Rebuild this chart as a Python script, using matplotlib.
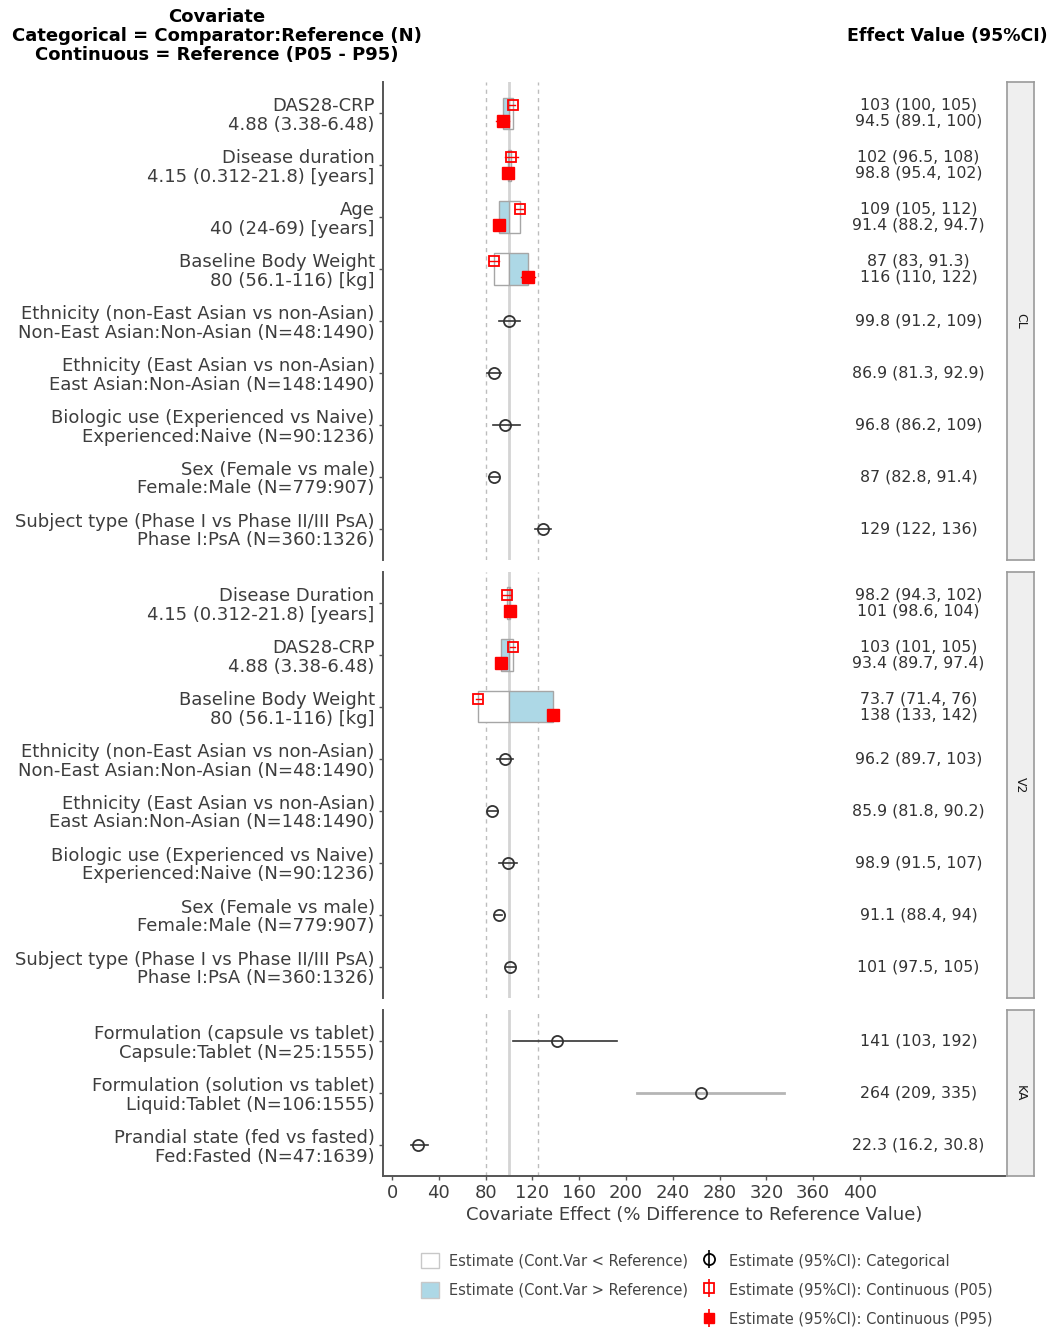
import matplotlib
matplotlib.use("Agg")
import matplotlib.pyplot as plt
from matplotlib.patches import Rectangle, Patch
from matplotlib.lines import Line2D
from matplotlib.legend_handler import HandlerTuple

# ---------------- data ----------------
# CL panel: continuous covariates (P05 / P95 of covariate distribution)
cl_cont_labels = [
    "DAS28-CRP\n4.88 (3.38-6.48)",
    "Disease duration\n4.15 (0.312-21.8) [years]",
    "Age\n40 (24-69) [years]",
    "Baseline Body Weight\n80 (56.1-116) [kg]",
]
cl_p05 = [103, 102, 109, 87]
cl_p05_lo = [100, 96.5, 105, 83]
cl_p05_hi = [105, 108, 112, 91.3]
cl_p95 = [94.5, 98.8, 91.4, 116]
cl_p95_lo = [89.1, 95.4, 88.2, 110]
cl_p95_hi = [100, 102, 94.7, 122]
# CL panel: categorical covariates
cl_cat_labels = [
    "Ethnicity (non-East Asian vs non-Asian)\nNon-East Asian:Non-Asian (N=48:1490)",
    "Ethnicity (East Asian vs non-Asian)\nEast Asian:Non-Asian (N=148:1490)",
    "Biologic use (Experienced vs Naive)\nExperienced:Naive (N=90:1236)",
    "Sex (Female vs male)\nFemale:Male (N=779:907)",
    "Subject type (Phase I vs Phase II/III PsA)\nPhase I:PsA (N=360:1326)",
]
cl_cat = [99.8, 86.9, 96.8, 87, 129]
cl_cat_lo = [91.2, 81.3, 86.2, 82.8, 122]
cl_cat_hi = [109, 92.9, 109, 91.4, 136]

# V2 panel
v2_cont_labels = [
    "Disease Duration\n4.15 (0.312-21.8) [years]",
    "DAS28-CRP\n4.88 (3.38-6.48)",
    "Baseline Body Weight\n80 (56.1-116) [kg]",
]
v2_p05 = [98.2, 103, 73.7]
v2_p05_lo = [94.3, 101, 71.4]
v2_p05_hi = [102, 105, 76]
v2_p95 = [101, 93.4, 138]
v2_p95_lo = [98.6, 89.7, 133]
v2_p95_hi = [104, 97.4, 142]
v2_cat_labels = [
    "Ethnicity (non-East Asian vs non-Asian)\nNon-East Asian:Non-Asian (N=48:1490)",
    "Ethnicity (East Asian vs non-Asian)\nEast Asian:Non-Asian (N=148:1490)",
    "Biologic use (Experienced vs Naive)\nExperienced:Naive (N=90:1236)",
    "Sex (Female vs male)\nFemale:Male (N=779:907)",
    "Subject type (Phase I vs Phase II/III PsA)\nPhase I:PsA (N=360:1326)",
]
v2_cat = [96.2, 85.9, 98.9, 91.1, 101]
v2_cat_lo = [89.7, 81.8, 91.5, 88.4, 97.5]
v2_cat_hi = [103, 90.2, 107, 94, 105]

# KA panel (categorical only)
ka_cat_labels = [
    "Formulation (capsule vs tablet)\nCapsule:Tablet (N=25:1555)",
    "Formulation (solution vs tablet)\nLiquid:Tablet (N=106:1555)",
    "Prandial state (fed vs fasted)\nFed:Fasted (N=47:1639)",
]
ka_cat = [141, 264, 22.3]
ka_cat_lo = [103, 209, 16.2]
ka_cat_hi = [192, 335, 30.8]

x_ticks = [0, 40, 80, 120, 160, 200, 240, 280, 320, 360, 400]
panel_names = ["CL", "V2", "KA"]

# ---------------- styling ----------------
W, H = 1054, 1327
DARK = "#333333"
TXT = "#3d3d3d"
RED = "#ff0000"
BLUE = "#add8e6"
BOX_EDGE = "#a6a6a6"
TEXT_X = 450
XLIM = (-7.7, 524)
AX_FS = 13
VAL_FS = 11.3

plt.rcParams["font.family"] = ["DejaVu Sans"]

fig = plt.figure(figsize=(W / 100, H / 100), dpi=100)


def fmt(v):
    return f"{v:.3g}"


def fx(px):
    return px / W


def fy(px):
    return 1 - px / H


def draw_panel(ax, cont_labels, p05, p05_lo, p05_hi, p95, p95_lo, p95_hi,
               cat_labels, cat, cat_lo, cat_hi, ci_colors=None, bottom=False):
    n_cont = len(cont_labels)
    n = n_cont + len(cat_labels)
    ax.set_xlim(*XLIM)
    ax.set_ylim(n - 1 + 0.6, -0.6)

    # reference lines
    ax.axvline(100, color="#d4d4d4", lw=2.0, zorder=1)
    for v in (80, 125):
        ax.axvline(v, color="#bdbdbd", lw=1.0, ls=(0, (3, 3)), zorder=1)

    # continuous covariates: shaded boxes + P05 / P95 estimates
    for i in range(n_cont):
        ax.add_patch(Rectangle((100, i - 0.3), p05[i] - 100, 0.6,
                               facecolor="white", edgecolor=BOX_EDGE,
                               lw=1.0, zorder=2))
        ax.add_patch(Rectangle((100, i - 0.3), p95[i] - 100, 0.6,
                               facecolor=BLUE, edgecolor=BOX_EDGE,
                               lw=1.0, zorder=2))
        y5, y95 = i - 0.15, i + 0.15
        ax.plot([p05_lo[i], p05_hi[i]], [y5, y5], color=RED, lw=1.0, zorder=3)
        ax.plot([p05[i]], [y5], marker="s", ms=7.5, mfc="none", mec=RED,
                mew=1.3, zorder=4)
        ax.plot([p95_lo[i], p95_hi[i]], [y95, y95], color=RED, lw=1.0, zorder=3)
        ax.plot([p95[i]], [y95], marker="s", ms=8, mfc=RED, mec=RED,
                mew=1.0, zorder=4)
        ax.text(TEXT_X, i - 0.16,
                f"{fmt(p05[i])} ({fmt(p05_lo[i])}, {fmt(p05_hi[i])})",
                ha="center", va="center", fontsize=VAL_FS, color=DARK)
        ax.text(TEXT_X, i + 0.16,
                f"{fmt(p95[i])} ({fmt(p95_lo[i])}, {fmt(p95_hi[i])})",
                ha="center", va="center", fontsize=VAL_FS, color=DARK)

    # categorical covariates
    for j in range(len(cat_labels)):
        y = n_cont + j
        c = ci_colors[j] if ci_colors else DARK
        lw = 2.0 if c != DARK else 1.2
        ax.plot([cat_lo[j], cat_hi[j]], [y, y], color=c, lw=lw, zorder=3)
        ax.plot([cat[j]], [y], marker="o", ms=8, mfc="none", mec=DARK,
                mew=1.3, zorder=4)
        ax.text(TEXT_X, y, f"{fmt(cat[j])} ({fmt(cat_lo[j])}, {fmt(cat_hi[j])})",
                ha="center", va="center", fontsize=VAL_FS, color=DARK)

    ax.set_yticks(range(n))
    ax.set_yticklabels(list(cont_labels) + list(cat_labels),
                       ha="right", multialignment="right")
    for t in ax.get_yticklabels():
        t.set_linespacing(1.05)
    ax.tick_params(axis="y", length=3, width=1.0, color="#555555",
                   labelsize=AX_FS, labelcolor=TXT, pad=3)
    for s in ("top", "right"):
        ax.spines[s].set_visible(False)
    ax.spines["left"].set_color("#555555")
    ax.spines["left"].set_linewidth(1.4)
    if bottom:
        ax.spines["bottom"].set_color("#555555")
        ax.spines["bottom"].set_linewidth(1.4)
        ax.set_xticks(x_ticks)
        ax.tick_params(axis="x", length=3, width=1.0, color="#555555",
                       labelsize=AX_FS, labelcolor=TXT, pad=3)
        ax.set_xlabel("Covariate Effect (% Difference to Reference Value)",
                      fontsize=AX_FS, color=TXT, labelpad=3)
    else:
        ax.spines["bottom"].set_visible(False)
        ax.set_xticks([])


# panel vertical extents (pixels from top), heights proportional to rows
unit = 51.94
tops = [82]
sizes = [len(cl_cont_labels) + len(cl_cat_labels),
         len(v2_cont_labels) + len(v2_cat_labels),
         len(ka_cat_labels)]
heights = [(s + 0.2) * unit for s in sizes]
for h in heights[:-1]:
    tops.append(tops[-1] + h + 12)

axes = []
for t, h in zip(tops, heights):
    ax = fig.add_axes([fx(383), fy(t + h), fx(1005) - fx(383), h / H])
    axes.append(ax)

draw_panel(axes[0], cl_cont_labels, cl_p05, cl_p05_lo, cl_p05_hi,
           cl_p95, cl_p95_lo, cl_p95_hi,
           cl_cat_labels, cl_cat, cl_cat_lo, cl_cat_hi)
draw_panel(axes[1], v2_cont_labels, v2_p05, v2_p05_lo, v2_p05_hi,
           v2_p95, v2_p95_lo, v2_p95_hi,
           v2_cat_labels, v2_cat, v2_cat_lo, v2_cat_hi)
draw_panel(axes[2], [], [], [], [], [], [], [],
           ka_cat_labels, ka_cat, ka_cat_lo, ka_cat_hi,
           ci_colors=[DARK, "#b5b5b5", DARK], bottom=True)

# facet strips on the right
for name, t, h in zip(panel_names, tops, heights):
    sax = fig.add_axes([fx(1007), fy(t + h), fx(1034) - fx(1007), h / H])
    sax.set_facecolor("#efefef")
    for s in sax.spines.values():
        s.set_color("#9a9a9a")
        s.set_linewidth(1.2)
    sax.set_xticks([])
    sax.set_yticks([])
    sax.text(0.5, 0.5, name, rotation=270, ha="center", va="center",
             fontsize=9, color="#1a1a1a", transform=sax.transAxes)

# column headers
fig.text(fx(217), fy(36),
         "Covariate\nCategorical = Comparator:Reference (N)\nContinuous = Reference (P05 - P95)",
         ha="center", va="center", fontsize=13, fontweight="bold",
         color="black", linespacing=1.1)
fig.text(fx(847), fy(36), "Effect Value (95%CI)", ha="left", va="center",
         fontsize=12.5, fontweight="bold", color="black")

# legend
h_low = Patch(facecolor="white", edgecolor="#c8c8c8", lw=1.0)
h_high = Patch(facecolor=BLUE, edgecolor="#c8c8c8", lw=1.0)
h_blank = Line2D([], [], lw=0, marker=None)
h_cat = (Line2D([], [], lw=0, marker="|", ms=13, mec="black", mew=1.2),
         Line2D([], [], lw=0, marker="o", ms=8, mfc="none", mec="black", mew=1.3))
h_p05 = (Line2D([], [], lw=0, marker="|", ms=13, mec=RED, mew=1.2),
         Line2D([], [], lw=0, marker="s", ms=7.5, mfc="none", mec=RED, mew=1.3))
h_p95 = (Line2D([], [], lw=0, marker="|", ms=13, mec=RED, mew=1.2),
         Line2D([], [], lw=0, marker="s", ms=7.5, mfc=RED, mec=RED, mew=1.0))
leg = fig.legend(
    [h_low, h_high, h_blank, h_cat, h_p05, h_p95],
    ["Estimate (Cont.Var < Reference)", "Estimate (Cont.Var > Reference)", "",
     "Estimate (95%CI): Categorical", "Estimate (95%CI): Continuous (P05)",
     "Estimate (95%CI): Continuous (P95)"],
    ncol=2, loc="upper left", bbox_to_anchor=(fx(421), fy(1253)),
    frameon=False, fontsize=10.5, handlelength=1.25, handleheight=1.25,
    handletextpad=0.7, labelspacing=0.93, columnspacing=0.8,
    borderpad=0.0, borderaxespad=0.0,
    handler_map={tuple: HandlerTuple(ndivide=1, pad=0.0)},
)
for t in leg.get_texts():
    t.set_color("#444444")

fig.savefig("out.png", dpi=100)
